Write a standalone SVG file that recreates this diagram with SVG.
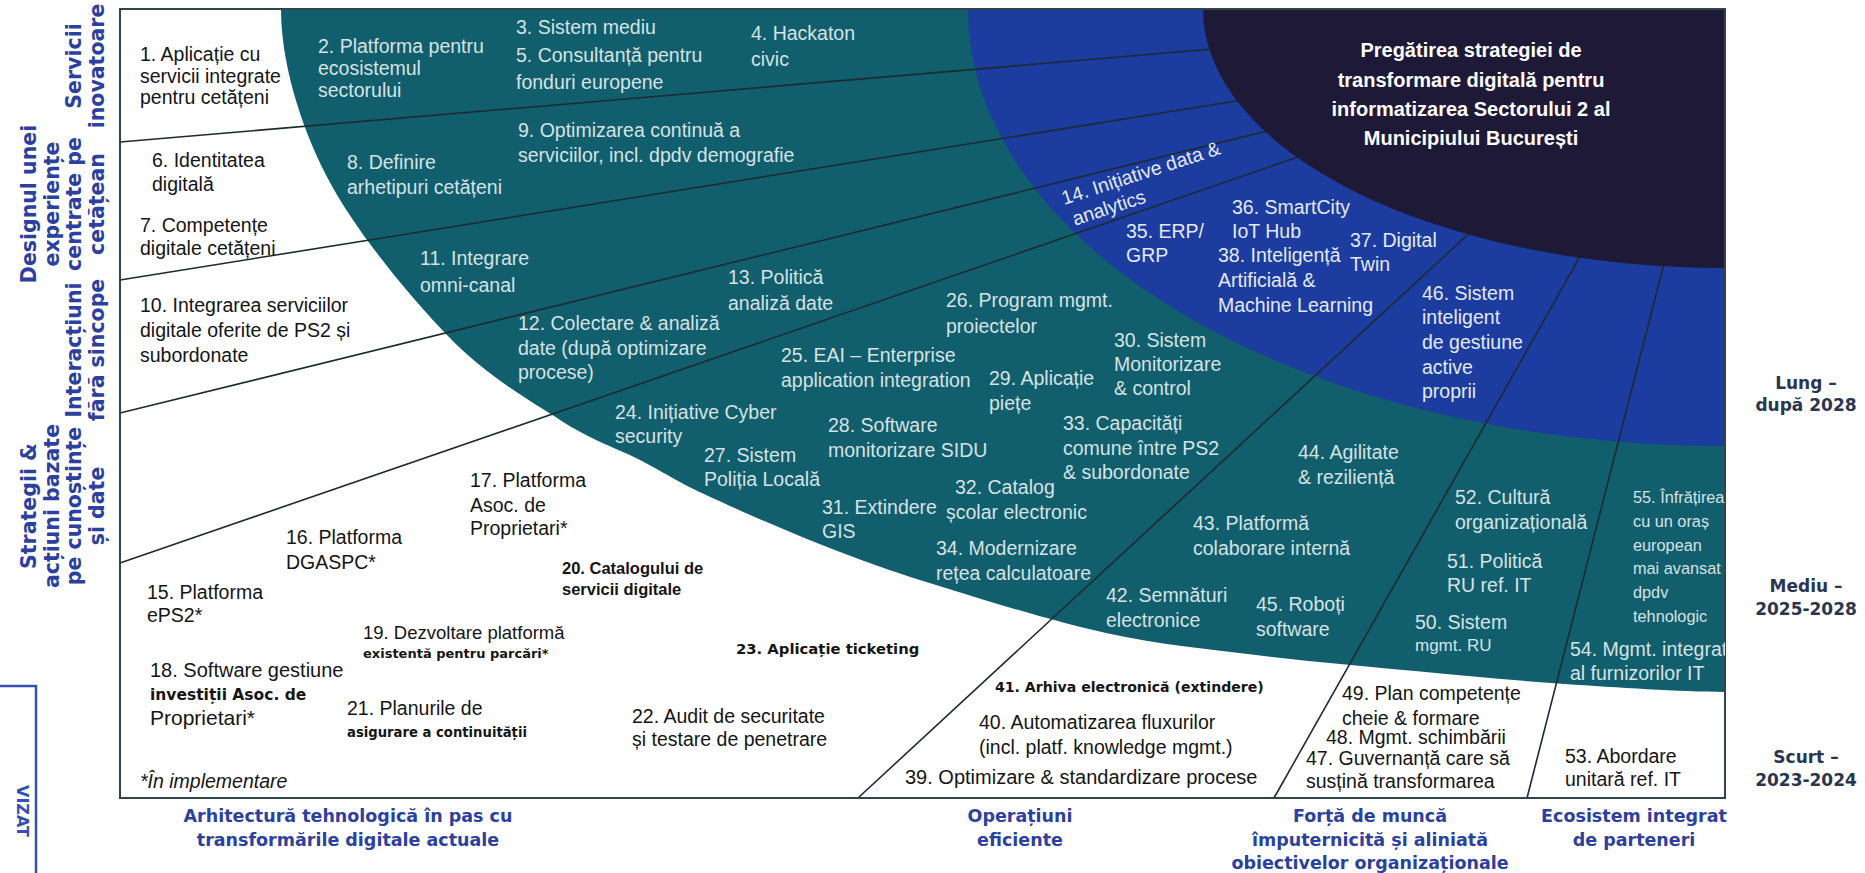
<svg xmlns="http://www.w3.org/2000/svg" width="1865" height="873" viewBox="0 0 1865 873">
<defs>
<style>
.t{font-family:"Liberation Sans",Arial,sans-serif;font-size:19.5px}
.k{fill:#151515}
.w{fill:#d6e2e5}
.wb{fill:#e3e9f5}
.sb{font-family:"DejaVu Sans",Verdana,sans-serif;font-weight:bold;font-size:14.8px;fill:#151515}
.lab{font-family:"DejaVu Sans",Verdana,sans-serif;font-weight:bold;font-size:17.5px;fill:#2c409e;text-anchor:middle}
.vlab{font-family:"DejaVu Sans",Verdana,sans-serif;font-weight:bold;font-size:20.5px;fill:#2c409e;text-anchor:middle}
.rlab{font-family:"DejaVu Sans",Verdana,sans-serif;font-weight:bold;font-size:17px;fill:#2a3550;text-anchor:middle}
.ttl{font-family:"Liberation Sans",Arial,sans-serif;font-weight:bold;font-size:20px;fill:#ffffff;text-anchor:middle}
.sep{stroke:#1d2b31;stroke-width:1.6;fill:none}
</style>
<clipPath id="boxclip"><rect x="120" y="9" width="1605" height="789"/></clipPath>
</defs>
<rect width="1865" height="873" fill="#ffffff"/>

<g id="regions">
<path id="teal-zone" fill="#115e6c" d="M281,9 C281,59 298.3,120.7 326,175 C353.7,229.3 408,294.2 447,335 C486,375.8 527.8,399.2 560,420 C592.2,440.8 616,447.7 640,460 C664,472.3 673.7,479.8 704,494 C734.3,508.2 783.3,529.8 822,545 C860.7,560.2 888.7,570.3 936,585 C983.3,599.7 1052.7,621.3 1106,633 C1159.3,644.7 1204.5,648.7 1256,655 C1307.5,661.3 1363.5,666.2 1415,671 C1466.5,675.8 1513.3,680.5 1565,684 C1616.7,687.5 1680,691.5 1725,692 L1725,9 Z"/>
<path id="blue-zone" fill="#1c3ca0" d="M968,9 A757 437 0 0 0 1725,446 L1725,9 Z"/>
</g>

<g id="connectors">
<line class="sep" x1="120" y1="142" x2="1260" y2="45"/>
<line class="sep" x1="120" y1="280" x2="1280" y2="94"/>
<line class="sep" x1="120" y1="413" x2="1300" y2="123"/>
<line class="sep" x1="120" y1="563" x2="1330" y2="146"/>
<line class="sep" x1="858" y1="798" x2="1489" y2="215"/>
<line class="sep" x1="1274" y1="798" x2="1595" y2="230"/>
<line class="sep" x1="1527" y1="798" x2="1670" y2="240"/>
</g>

<path id="navy-zone" fill="#1e1937" d="M1203,9 A522 259 0 0 0 1725,268 L1725,9 Z"/>
<rect id="frame" x="120" y="9" width="1605" height="789" fill="none" stroke="#34444c" stroke-width="2"/>

<g id="title"><text class="ttl"><tspan x="1471" y="57">Pregătirea strategiei de</tspan><tspan x="1471" y="87">transformare digitală pentru</tspan><tspan x="1471" y="116">informatizarea Sectorului 2 al</tspan><tspan x="1471" y="145">Municipiului București</tspan></text></g>

<g id="row-servicii"><text class="vlab" transform="translate(104,66) rotate(-90)"><tspan x="0" y="-23">Servicii</tspan><tspan x="0" y="0">inovatoare</tspan></text></g>
<g id="row-design"><text class="vlab" transform="translate(104,204) rotate(-90)"><tspan x="0" y="-68">Designul unei</tspan><tspan x="0" y="-45.5">experiențe</tspan><tspan x="0" y="-23">centrate pe</tspan><tspan x="0" y="0">cetățean</tspan></text></g>
<g id="row-interactiuni"><text class="vlab" transform="translate(104,350) rotate(-90)"><tspan x="0" y="-23">Interacțiuni</tspan><tspan x="0" y="0">fără sincope</tspan></text></g>
<g id="row-strategii"><text class="vlab" transform="translate(104,506) rotate(-90)"><tspan x="0" y="-68">Strategii &amp;</tspan><tspan x="0" y="-45.5">acțiuni bazate</tspan><tspan x="0" y="-23">pe cunoștințe</tspan><tspan x="0" y="0">și date</tspan></text></g>

<g id="col-arhitectura"><text class="lab"><tspan x="348" y="822">Arhitectură tehnologică în pas cu</tspan><tspan x="348" y="846">transformările digitale actuale</tspan></text></g>
<g id="col-operatiuni"><text class="lab"><tspan x="1020" y="822">Operațiuni</tspan><tspan x="1020" y="846">eficiente</tspan></text></g>
<g id="col-forta"><text class="lab"><tspan x="1370" y="822">Forță de muncă</tspan><tspan x="1370" y="846">împuternicită și aliniată</tspan><tspan x="1370" y="869">obiectivelor organizaționale</tspan></text></g>
<g id="col-ecosistem"><text class="lab"><tspan x="1634" y="822">Ecosistem integrat</tspan><tspan x="1634" y="846">de parteneri</tspan></text></g>

<g id="time-lung"><text class="rlab"><tspan x="1806" y="389">Lung –</tspan><tspan x="1806" y="411">după 2028</tspan></text></g>
<g id="time-mediu"><text class="rlab"><tspan x="1806" y="592">Mediu –</tspan><tspan x="1806" y="615">2025-2028</tspan></text></g>
<g id="time-scurt"><text class="rlab"><tspan x="1806" y="763">Scurt –</tspan><tspan x="1806" y="786">2023-2024</tspan></text></g>

<g id="n1"><text class="t k"><tspan x="140" y="61">1. Aplicație cu</tspan><tspan x="140" y="83">servicii integrate</tspan><tspan x="140" y="104">pentru cetățeni</tspan></text></g>
<g id="n2"><text class="t w"><tspan x="318" y="53">2. Platforma pentru</tspan><tspan x="318" y="75">ecosistemul</tspan><tspan x="318" y="97">sectorului</tspan></text></g>
<g id="n3"><text class="t w" x="516" y="34">3. Sistem mediu</text></g>
<g id="n4"><text class="t w"><tspan x="751" y="40">4. Hackaton</tspan><tspan x="751" y="66">civic</tspan></text></g>
<g id="n5"><text class="t w"><tspan x="516" y="62">5. Consultanță pentru</tspan><tspan x="516" y="89">fonduri europene</tspan></text></g>
<g id="n6"><text class="t k"><tspan x="152" y="167">6. Identitatea</tspan><tspan x="152" y="191">digitală</tspan></text></g>
<g id="n7"><text class="t k"><tspan x="140" y="232">7. Competențe</tspan><tspan x="140" y="255">digitale cetățeni</tspan></text></g>
<g id="n8"><text class="t w"><tspan x="347" y="169">8. Definire</tspan><tspan x="347" y="194">arhetipuri cetățeni</tspan></text></g>
<g id="n9"><text class="t w"><tspan x="518" y="137">9. Optimizarea continuă a</tspan><tspan x="518" y="162">serviciilor, incl. dpdv demografie</tspan></text></g>
<g id="n10"><text class="t k"><tspan x="140" y="312">10. Integrarea serviciilor</tspan><tspan x="140" y="337">digitale oferite de PS2 și</tspan><tspan x="140" y="362">subordonate</tspan></text></g>
<g id="n11"><text class="t w"><tspan x="420" y="265">11. Integrare</tspan><tspan x="420" y="292">omni-canal</tspan></text></g>
<g id="n12"><text class="t w"><tspan x="518" y="330">12. Colectare &amp; analiză</tspan><tspan x="518" y="355">date (după optimizare</tspan><tspan x="518" y="379">procese)</tspan></text></g>
<g id="n13"><text class="t w"><tspan x="728" y="284">13. Politică</tspan><tspan x="728" y="310">analiză date</tspan></text></g>
<g id="n14"><text class="t wb" transform="translate(1064,205) rotate(-18)"><tspan x="0" y="0">14. Inițiative data &amp;</tspan><tspan x="4" y="23">analytics</tspan></text></g>
<g id="n15"><text class="t k"><tspan x="147" y="599">15. Platforma</tspan><tspan x="147" y="622">ePS2*</tspan></text></g>
<g id="n16"><text class="t k"><tspan x="286" y="544">16. Platforma</tspan><tspan x="286" y="569">DGASPC*</tspan></text></g>
<g id="n17"><text class="t k"><tspan x="470" y="487">17. Platforma</tspan><tspan x="470" y="512">Asoc. de</tspan><tspan x="470" y="535">Proprietari*</tspan></text></g>
<g id="n18"><text class="t k" x="150" y="677" style="font-size:20px">18. Software gestiune</text><text class="sb" x="150" y="700" style="font-size:15.5px">investiții Asoc. de</text><text class="t k" x="150" y="725" style="font-size:21px">Proprietari*</text></g>
<g id="n19"><text class="t k" x="363" y="639" style="font-size:18.5px">19. Dezvoltare platformă</text><text class="sb" x="363" y="658" style="font-size:13px">existentă pentru parcări*</text></g>
<g id="n20"><text class="t k" style="font-weight:bold;font-size:16.5px"><tspan x="562" y="574">20. Catalogului de</tspan><tspan x="562" y="595">servicii digitale</tspan></text></g>
<g id="n21"><text class="t k" x="347" y="715">21. Planurile de</text><text class="sb" x="347" y="737" style="font-size:13.2px">asigurare a continuității</text></g>
<g id="n22"><text class="t k"><tspan x="632" y="723">22. Audit de securitate</tspan><tspan x="632" y="746">și testare de penetrare</tspan></text></g>
<g id="n23"><text class="sb" x="736" y="654">23. Aplicație ticketing</text></g>
<g id="n24"><text class="t w"><tspan x="615" y="419">24. Inițiative Cyber</tspan><tspan x="615" y="443">security</tspan></text></g>
<g id="n25"><text class="t w"><tspan x="781" y="362">25. EAI – Enterprise</tspan><tspan x="781" y="387">application integration</tspan></text></g>
<g id="n26"><text class="t w"><tspan x="946" y="307">26. Program mgmt.</tspan><tspan x="946" y="333">proiectelor</tspan></text></g>
<g id="n27"><text class="t w"><tspan x="704" y="462">27. Sistem</tspan><tspan x="704" y="486">Poliția Locală</tspan></text></g>
<g id="n28"><text class="t w"><tspan x="828" y="432">28. Software</tspan><tspan x="828" y="457">monitorizare SIDU</tspan></text></g>
<g id="n29"><text class="t w"><tspan x="989" y="385">29. Aplicație</tspan><tspan x="989" y="410">piețe</tspan></text></g>
<g id="n30"><text class="t w"><tspan x="1114" y="347">30. Sistem</tspan><tspan x="1114" y="371">Monitorizare</tspan><tspan x="1114" y="395">&amp; control</tspan></text></g>
<g id="n31"><text class="t w"><tspan x="822" y="514">31. Extindere</tspan><tspan x="822" y="538">GIS</tspan></text></g>
<g id="n32"><text class="t w"><tspan x="955" y="494">32. Catalog</tspan><tspan x="946" y="519">școlar electronic</tspan></text></g>
<g id="n33"><text class="t w"><tspan x="1063" y="430">33. Capacități</tspan><tspan x="1063" y="455">comune între PS2</tspan><tspan x="1063" y="479">&amp; subordonate</tspan></text></g>
<g id="n34"><text class="t w"><tspan x="936" y="555">34. Modernizare</tspan><tspan x="936" y="580">rețea calculatoare</tspan></text></g>
<g id="n35"><text class="t wb"><tspan x="1126" y="238">35. ERP/</tspan><tspan x="1126" y="262">GRP</tspan></text></g>
<g id="n36"><text class="t wb"><tspan x="1232" y="214">36. SmartCity</tspan><tspan x="1232" y="238">IoT Hub</tspan></text></g>
<g id="n37"><text class="t wb"><tspan x="1350" y="247">37. Digital</tspan><tspan x="1350" y="271">Twin</tspan></text></g>
<g id="n38"><text class="t wb"><tspan x="1218" y="262">38. Inteligență</tspan><tspan x="1218" y="287">Artificială &amp;</tspan><tspan x="1218" y="312">Machine Learning</tspan></text></g>
<g id="n39"><text class="t k" x="905" y="784" style="font-size:20px">39. Optimizare  &amp; standardizare procese</text></g>
<g id="n40"><text class="t k"><tspan x="979" y="729">40. Automatizarea fluxurilor</tspan><tspan x="979" y="754">(incl. platf. knowledge mgmt.)</tspan></text></g>
<g id="n41"><text class="sb" x="995" y="692" style="font-size:14.1px">41. Arhiva electronică (extindere)</text></g>
<g id="n42"><text class="t w"><tspan x="1106" y="602">42. Semnături</tspan><tspan x="1106" y="627">electronice</tspan></text></g>
<g id="n43"><text class="t w"><tspan x="1193" y="530">43. Platformă</tspan><tspan x="1193" y="555">colaborare internă</tspan></text></g>
<g id="n44"><text class="t w"><tspan x="1298" y="459">44. Agilitate</tspan><tspan x="1298" y="484">&amp; reziliență</tspan></text></g>
<g id="n45"><text class="t w"><tspan x="1256" y="611">45. Roboți</tspan><tspan x="1256" y="636">software</tspan></text></g>
<g id="n46"><text class="t wb"><tspan x="1422" y="300">46. Sistem</tspan><tspan x="1422" y="324">inteligent</tspan><tspan x="1422" y="349">de gestiune</tspan><tspan x="1422" y="374">active</tspan><tspan x="1422" y="398">proprii</tspan></text></g>
<g id="n47"><text class="t k"><tspan x="1306" y="765">47. Guvernanță care să</tspan><tspan x="1306" y="788">susțină transformarea</tspan></text></g>
<g id="n48"><text class="t k" x="1326" y="744">48. Mgmt.  schimbării</text></g>
<g id="n49"><text class="t k"><tspan x="1342" y="700">49. Plan competențe</tspan><tspan x="1342" y="725">cheie &amp; formare</tspan></text></g>
<g id="n50"><text class="t w" x="1415" y="629">50. Sistem</text><text class="t w" x="1415" y="651" style="font-size:17px">mgmt.  RU</text></g>
<g id="n51"><text class="t w"><tspan x="1447" y="568">51. Politică</tspan><tspan x="1447" y="592">RU ref. IT</tspan></text></g>
<g id="n52"><text class="t w"><tspan x="1455" y="504">52. Cultură</tspan><tspan x="1455" y="529">organizațională</tspan></text></g>
<g id="n53"><text class="t k"><tspan x="1565" y="763">53. Abordare</tspan><tspan x="1565" y="786">unitară ref. IT</tspan></text></g>
<g id="n54" clip-path="url(#boxclip)"><text class="t w"><tspan x="1570" y="656">54. Mgmt.  integrat</tspan><tspan x="1570" y="680">al furnizorilor IT</tspan></text></g>
<g id="n55" clip-path="url(#boxclip)"><text class="t w" style="font-size:16.3px"><tspan x="1633" y="503">55. Înfrățirea</tspan><tspan x="1633" y="527">cu un oraș</tspan><tspan x="1633" y="551">european</tspan><tspan x="1633" y="574">mai avansat</tspan><tspan x="1633" y="598">dpdv</tspan><tspan x="1633" y="622">tehnologic</tspan></text></g>

<g id="note"><text class="t k" x="140" y="788" style="font-style:italic">*În implementare</text></g>

<g id="stamp"><rect x="-4" y="686" width="40" height="200" fill="none" stroke="#3550b4" stroke-width="2.5"/><text transform="translate(17,811) rotate(90)" style="font-family:'DejaVu Sans',Verdana,sans-serif;font-weight:bold;font-size:16px;fill:#3550b4;text-anchor:middle">VIZAT</text></g>
</svg>
